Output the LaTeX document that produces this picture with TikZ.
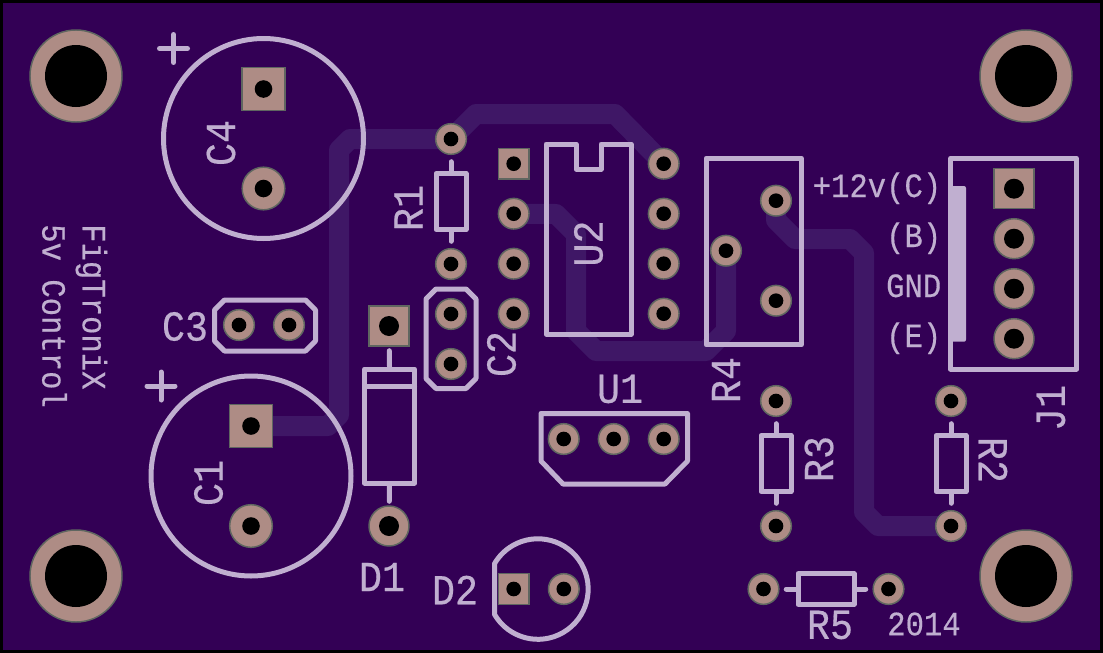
\documentclass[tikz,border=0pt]{standalone}
\usepackage{fontspec}
\setmainfont{Liberation Mono}[FakeBold=0.4,FakeStretch=0.9]
\usepackage{tikz}
\usetikzlibrary{calc}
\usetikzlibrary{backgrounds}
\definecolor{boardcol}{HTML}{330055}
\definecolor{tracecol}{HTML}{3F1766}
\definecolor{silkcol}{HTML}{C0AFD0}
\definecolor{padcol}{HTML}{AE8C85}
\definecolor{padedge}{HTML}{5F6660}
\tikzset{
	silk/.style={draw=silkcol,line width=3.75pt,line join=round,line cap=round},
	lead/.style={silk,shorten >=5pt},
	trace/.style={draw=tracecol,line width=15pt,line join=round,line cap=round},
	padbase/.style={draw=padedge,fill=padcol,line width=1.1pt,inner sep=0pt},
	holed/.style={path picture={\fill[black] (path picture bounding box.center) circle (#1);}},
	padround/.style={padbase,circle,minimum size=#1},
	padsquare/.style={padbase,rectangle,minimum size=#1},
	smallpad/.style={padround=23pt,holed=5.5pt},
	smallsquare/.style={padsquare=23pt,holed=5.5pt},
	bigpad/.style={padround=30pt,holed=7.5pt},
	bigsquare/.style={padsquare=30pt,holed=7.5pt},
	capbody/.style={silk,circle,minimum size=150pt,inner sep=0pt},
	resvert/.style={silk,rectangle,minimum width=22.5pt,minimum height=42pt,inner sep=0pt},
	silktext/.style={text=silkcol,inner sep=0pt,font=\fontsize{32pt}{32pt}\selectfont},
	smalltext/.style={text=silkcol,inner sep=0pt,font=\fontsize{25.5pt}{25.5pt}\selectfont}
}
\begin{document}
\begin{tikzpicture}[x=.75pt,y=-.75pt]
	\useasboundingbox (0,0) rectangle (1103,653);
	
	%mounting holes
	\foreach \n/\x/\y in {tl/76/76,tr/1026/76,bl/76/576,br/1026/576} {
		\node[padround=69pt,holed=23.25pt] (mount_\n) at (\x,\y) {};
	}
	
	%capacitors
	\node[capbody] (c4_body) at (263.5,138.5) {};
	\node[padsquare=32pt,holed=6.6pt] (c4_pad1) at (263.5,89) {};
	\node[padround=32pt,holed=6.6pt] (c4_pad2) at (263.5,188.5) {};
	\node[capbody] (c1_body) at (251,476) {};
	\node[padsquare=32pt,holed=6.6pt] (c1_pad1) at (251,426) {};
	\node[padround=32pt,holed=6.6pt] (c1_pad2) at (251,526) {};
	\draw[silk] (159.5,48.5) -- (187.5,48.5);
	\draw[silk] (173.5,34.5) -- (173.5,62.5);
	\draw[silk] (147,386) -- (175,386);
	\draw[silk] (161,372) -- (161,400);
	
	%small capacitors
	\node[smallpad] (c3_pad1) at (239,325) {};
	\node[smallpad] (c3_pad2) at (289,325) {};
	\draw[silk] (224.5,300) -- (305.5,300) -- (315.5,310) -- (315.5,341) -- (305.5,351) -- (224.5,351) -- (214.5,341) -- (214.5,310) -- cycle;
	\node[smallpad] (c2_pad1) at (451,314) {};
	\node[smallpad] (c2_pad2) at (451,364) {};
	\draw[silk] (436,289) -- (466,289) -- (476,299) -- (476,378.5) -- (466,388.5) -- (436,388.5) -- (426,378.5) -- (426,299) -- cycle;
	
	%diode
	\node[bigsquare] (d1_pad1) at (389,326) {};
	\node[bigpad] (d1_pad2) at (389,526) {};
	\node[silk,rectangle,minimum width=37.5pt,minimum height=85.5pt,inner sep=0pt] (d1_body) at (389.5,426) {};
	\draw[silk] (364.5,386) -- (414.5,386);
	\draw[lead,shorten >=3pt] (d1_body.north) -- (d1_pad1);
	\draw[lead,shorten >=3pt] (d1_body.south) -- (d1_pad2);
	
	%vertical resistors
	\foreach \n/\x/\ya/\yb in {r1/451/139/264,r3/776/401/526,r2/951/401/526} {
		\node[smallpad] (\n_pad1) at (\x,\ya) {};
		\node[smallpad] (\n_pad2) at (\x,\yb) {};
		\node[resvert] (\n_body) at ($(\n_pad1)!.5!(\n_pad2)$) {};
		\draw[lead] (\n_body.north) -- (\n_pad1);
		\draw[lead] (\n_body.south) -- (\n_pad2);
	}
	
	%horizontal resistor
	\node[smallpad] (r5_pad1) at (763.5,589) {};
	\node[smallpad] (r5_pad2) at (888.5,589) {};
	\node[silk,rectangle,minimum width=42pt,minimum height=23pt,inner sep=0pt] (r5_body) at (826,589) {};
	\draw[lead] (r5_body.west) -- (r5_pad1);
	\draw[lead] (r5_body.east) -- (r5_pad2);
	
	%dip socket
	\node[smallsquare] (u2_left1) at (513.7,163.7) {};
	\foreach \i in {2,3,4} {
		\node[smallpad] (u2_left\i) at (513.7,113.7+\i*50) {};
	}
	\foreach \i in {1,2,3,4} {
		\node[smallpad] (u2_right\i) at (663.7,113.7+\i*50) {};
	}
	\draw[silk] (546,144) -- (576,144) -- (576,169) -- (601,169) -- (601,144) -- (631,144) -- (631,334) -- (546,334) -- cycle;
	
	%regulator
	\foreach \i in {1,2,3} {
		\node[smallpad] (u1_pad\i) at (513.7+\i*50,439) {};
	}
	\draw[silk] (541,413.5) -- (687.5,413.5) -- (687.5,461) -- (665,484) -- (563,484) -- (541,461) -- cycle;
	
	%trimmer
	\node[silk,rectangle,minimum width=71.5pt,minimum height=140pt,inner sep=0pt] (r4_body) at (753.7,251.5) {};
	\node[smallpad] (r4_pad1) at (776,200.7) {};
	\node[smallpad] (r4_pad2) at (726,250.7) {};
	\node[smallpad] (r4_pad3) at (776,300.7) {};
	
	%led
	\node[smallsquare] (d2_pad1) at (513.7,589) {};
	\node[smallpad] (d2_pad2) at (563.8,589) {};
	\draw[silk] (494.5,614.4) arc[start angle=210.3,end angle=509.7,radius=37.7pt] -- cycle;
	
	%connector
	\node[silk,rectangle,minimum width=94.5pt,minimum height=158pt,inner sep=0pt] (j1_body) at (1013.5,263.7) {};
	\fill[silkcol,rounded corners=1.5pt] (948,186) rectangle (966,341.7);
	\node[bigsquare] (j1_pad1) at (1014,188.7) {};
	\foreach \i in {2,3,4} {
		\node[bigpad] (j1_pad\i) at (1014,138.7+\i*50) {};
	}
	
	%board and copper
	\begin{scope}[on background layer]
		\fill[black] (0,0) rectangle (1103,653);
		\fill[boardcol] (3,3) rectangle (1100,650);
		\draw[trace] (c1_pad1.center) -- (328,426) -- (339,415) -- (339,150) -- (350,139) -- (r1_pad1.center) -- (476,114) -- (615,114) -- (u2_right1.center);
		\draw[trace] (u2_left2.center) -- (556,214) -- (576,234) -- (576,331) -- (596,351) -- (706,351) -- (726,331) -- (r4_pad2.center);
		\draw[trace] (r4_pad1.center) -- (776,220) -- (795,239) -- (850,239) -- (864,253) -- (864,512) -- (878,526) -- (r2_pad2.center);
	\end{scope}
	
	%descriptions
	\node[silktext,rotate=90] (c4_label) at (221,143) {C4};
	\node[silktext,rotate=90] (c1_label) at (208.5,483) {C1};
	\node[silktext] (c3_label) at (185,326.5) {C3};
	\node[silktext,rotate=90] (r1_label) at (408.5,208) {R1};
	\node[silktext,rotate=90] (c2_label) at (501.5,354) {C2};
	\node[silktext,rotate=90] (u2_label) at (588.5,243.5) {U2};
	\node[silktext,rotate=90] (r4_label) at (726,380) {R4};
	\node[silktext] (u1_label) at (620,389) {U1};
	\node[silktext] (d1_label) at (382,577) {D1};
	\node[silktext] (d2_label) at (455,590) {D2};
	\node[silktext,rotate=90] (r3_label) at (819,459) {R3};
	\node[silktext,rotate=-90] (r2_label) at (993,460) {R2};
	\node[silktext,rotate=90] (j1_label) at (1051,408) {J1};
	\node[silktext] (r5_label) at (830,625) {R5};
	\node[smalltext] (year_label) at (924,624) {2014};
	\node[smalltext,rotate=-90,anchor=west] (name_label) at (91.5,224) {FigTroniX};
	\node[smalltext,rotate=-90,anchor=west] (desc_label) at (54.5,224) {5v Control};
	\foreach \n/\y/\t in {c/197/+12v(C),b/247/(B),g/297/GND,e/347/(E)} {
		\node[smalltext,anchor=base east] (j1_label_\n) at (941.5,\y) {\t};
	}
\end{tikzpicture}
\end{document}
